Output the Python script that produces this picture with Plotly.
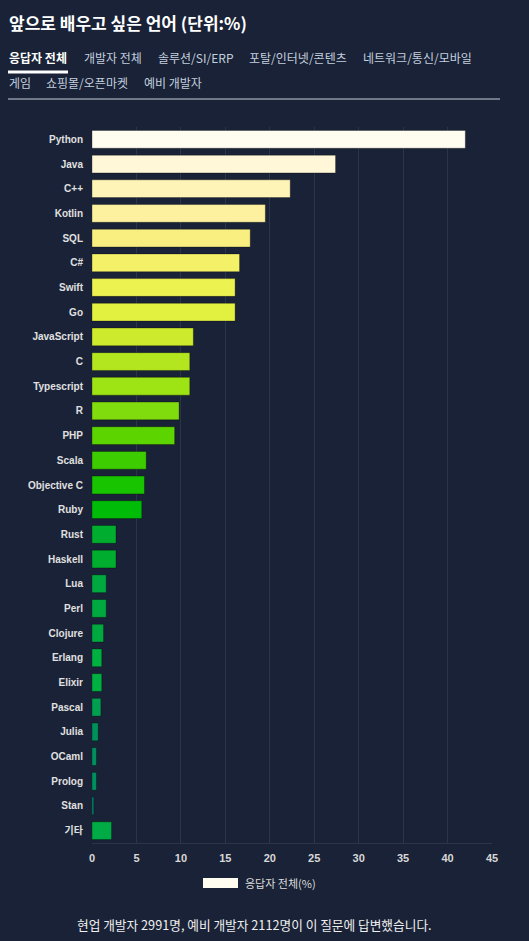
import plotly.graph_objects as go

# Datos
lenguajes = ["Python", "Java", "C++", "Kotlin", "SQL", "C#", "Swift", "Go",
             "JavaScript", "C", "Typescript", "R", "PHP", "Scala", "Objective C",
             "Ruby", "Rust", "Haskell", "Lua", "Perl", "Clojure", "Erlang",
             "Elixir", "Pascal", "Julia", "OCaml", "Prolog", "Stan", "기타"]
porcentajes = [42.0, 27.4, 22.3, 19.5, 17.8, 16.6, 16.1, 16.1,
               11.4, 11.0, 11.0, 9.8, 9.3, 6.1, 5.9,
               5.6, 2.7, 2.7, 1.6, 1.6, 1.3, 1.1,
               1.1, 1.0, 0.7, 0.5, 0.5, 0.2, 2.2]
colores = ["#fffcf0", "#fff7d8", "#fff4b8", "#fdf1a0", "#f8ef80", "#f4f068", "#ecf250", "#e2f040",
           "#cdeb2c", "#b4e620", "#9ee414", "#80dc0c", "#5cd400", "#3ccc00", "#18c400",
           "#00bc08", "#00ad2f", "#00ad2f", "#00a840", "#00a840", "#00a840", "#00b040",
           "#00b040", "#00a050", "#00905a", "#00905e", "#00905e", "#008870", "#00aa44"]
ticks_x = [0, 5, 10, 15, 20, 25, 30, 35, 40, 45]

titulo = "앞으로 배우고 싶은 언어 (단위:%)"
pestanas_1 = ["응답자 전체", "개발자 전체", "솔루션/SI/ERP", "포탈/인터넷/콘텐츠", "네트워크/통신/모바일"]
pestanas_2 = ["게임", "쇼핑몰/오픈마켓", "예비 개발자"]
leyenda = "응답자 전체(%)"
nota = "현업 개발자 2991명, 예비 개발자 2112명이 이 질문에 답변했습니다."

W, H = 529, 941
fondo = "#192236"
fuente_kr = "Noto Sans CJK KR"
ML, MR, MT, MB = 92, 37, 127, 98

fig = go.Figure()
fig.add_trace(go.Bar(
    x=porcentajes, y=lenguajes, orientation="h",
    marker=dict(color=colores, line=dict(color="rgba(0,0,0,0.3)", width=1)),
    showlegend=False, hoverinfo="x+y",
))

fig.update_layout(
    width=W, height=H,
    paper_bgcolor=fondo, plot_bgcolor=fondo,
    margin=dict(l=ML, r=MR, t=MT, b=MB),
    bargap=0.28,
    xaxis=dict(range=[0, 45], tickvals=ticks_x, showgrid=True, gridcolor="#2b3549",
               gridwidth=1, zeroline=False, showline=True, linecolor="#2b3549",
               tickfont=dict(family="Liberation Sans", size=11, color="#d8d8d8", weight="bold"),
               ticks="outside", ticklen=5, tickcolor="rgba(0,0,0,0)", fixedrange=True),
    yaxis=dict(autorange="reversed", showgrid=False, zeroline=False,
               tickfont=dict(family="Liberation Sans, " + fuente_kr, size=10, color="#e0e0e0",
                             weight="bold"),
               ticks="outside", ticklen=6, tickcolor="rgba(0,0,0,0)", fixedrange=True),
    font=dict(family=fuente_kr),
)

# Paso de pixeles a coordenadas de papel
pw = W - ML - MR
ph = H - MT - MB

def px_x(v):
    return (v - ML) / pw

def px_y(v):
    return (H - v - MB) / ph

def texto(t, x, y, size, color, anchor="left"):
    fig.add_annotation(xref="paper", yref="paper", x=px_x(x), y=px_y(y), text=t,
                       showarrow=False, xanchor=anchor, yanchor="middle",
                       font=dict(family=fuente_kr, size=size, color=color))

# Encabezado: titulo, pestanas y lineas
texto("<b>" + titulo + "</b>", 7, 22, 17, "#ffffff")
x_fila_1 = [7, 82, 156, 247, 361]
for i, (t, xp) in enumerate(zip(pestanas_1, x_fila_1)):
    if i == 0:
        texto("<b>" + t + "</b>", xp, 57, 12, "#ffffff")
    else:
        texto(t, xp, 57, 12, "#c3cfdf")
x_fila_2 = [7, 44, 142]
for t, xp in zip(pestanas_2, x_fila_2):
    texto(t, xp, 83, 12, "#c3cfdf")

fig.add_shape(type="line", xref="paper", yref="paper", x0=px_x(8), x1=px_x(68),
              y0=px_y(72), y1=px_y(72), line=dict(color="#ffffff", width=3))
fig.add_shape(type="line", xref="paper", yref="paper", x0=px_x(8), x1=px_x(500),
              y0=px_y(99), y1=px_y(99), line=dict(color="#c8cfdb", width=1))

# Leyenda manual
fig.add_shape(type="rect", xref="paper", yref="paper", x0=px_x(203), x1=px_x(238),
              y0=px_y(888), y1=px_y(878), fillcolor=colores[0], line=dict(width=0))
texto(leyenda, 243, 883, 11, "#dcdcdc")

# Nota al pie
texto(nota, 254, 925, 12.7, "#f0f0f0", anchor="center")

fig.write_html("out.html", config={"displayModeBar": False},
               post_script="document.body.style.margin='0';document.body.style.background='%s';" % fondo)
